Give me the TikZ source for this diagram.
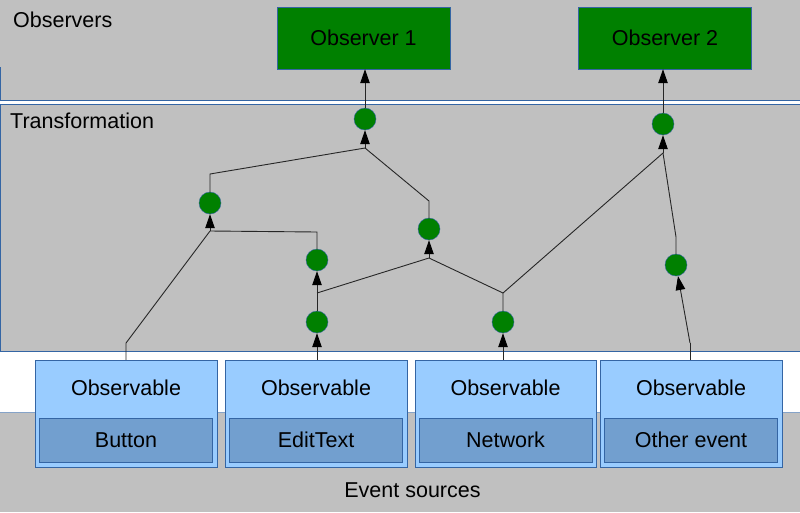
\documentclass[tikz,border=0pt]{standalone}
\usepackage{fontspec}
\setmainfont{Liberation Sans}
\usetikzlibrary{arrows.meta}
\definecolor{panelgray}{HTML}{C0C0C0}
\definecolor{opgreen}{HTML}{008000}
\definecolor{edgeblue}{HTML}{3465A4}
\definecolor{srclight}{HTML}{99CCFF}
\definecolor{srcdark}{HTML}{729FCF}
\tikzset{
  every node/.style={font=\fontsize{21.5}{25}\selectfont},
  title/.style={inner sep=0pt},
  observer/.style={draw=edgeblue, fill=opgreen, minimum width=173pt, minimum height=62pt, inner sep=0pt},
  operator/.style={circle, draw=edgeblue, fill=opgreen, minimum size=22pt, inner sep=0pt},
  source/.style={draw=edgeblue, fill=srclight, minimum width=182pt, minimum height=107pt, inner sep=0pt},
  sourcename/.style={draw=edgeblue, fill=srcdark, minimum width=173pt, minimum height=44pt, inner sep=0pt},
  link/.style={line width=0.9pt, black!85},
  flow/.style={link, -{Triangle[length=14pt, width=9.5pt, color=black]}},
  panelline/.style={edgeblue, line width=1pt}
}

\begin{document}
\begin{tikzpicture}[x=1pt, y=-1pt]
  \useasboundingbox (0,0) rectangle (800,512);
  % panels
  \fill[panelgray] (0,0) rectangle (800,512);
  \fill[white] (0,100) rectangle (800,104);
  \fill[white] (0,351) rectangle (800,412);
  \draw[panelline] (0,67) -- (0,100) -- (800,100);
  \draw[panelline] (800,104) -- (0,104) -- (0,351) -- (800,351);
  \draw[edgeblue!60, line width=0.8pt] (0,412) -- (800,412);
  \node[title, anchor=base west] (observerstitle) at (13,27) {Observers};
  \node[title, anchor=base west] (transtitle) at (10,128) {Transformation};
  \node[title, anchor=base] (sourcestitle) at (412.5,497) {Event sources};

  % observers
  \node[observer] (obs1) at (363.5,38) {Observer 1};
  \node[observer] (obs2) at (665,38) {Observer 2};

  % event sources
  \node[source] (button) at (126,413.5) {};
  \node (buttonobs) at (126,388) {Observable};
  \node[sourcename] (buttonname) at (126,440) {Button};
  \node[source] (edit) at (316,413.5) {};
  \node (editobs) at (316,388) {Observable};
  \node[sourcename] (editname) at (316,440) {EditText};
  \node[source, minimum width=181pt] (net) at (505.5,413.5) {};
  \node (netobs) at (505.5,388) {Observable};
  \node[sourcename, minimum width=173pt] (netname) at (505.5,440) {Network};
  \node[source] (other) at (691,413.5) {};
  \node (otherobs) at (691,388) {Observable};
  \node[sourcename] (othername) at (691,440) {Other event};

  % operators
  \node[operator] (op1) at (365,119) {};
  \node[operator] (op2) at (663,124) {};
  \node[operator] (op3) at (210,203) {};
  \node[operator] (op4) at (317,260) {};
  \node[operator] (op5) at (317,322) {};
  \node[operator] (op6) at (429,229) {};
  \node[operator] (op7) at (503,322) {};
  \node[operator] (op8) at (676,265) {};

  % junctions
  \coordinate (j1) at (365,148);
  \coordinate (j2) at (663,153);
  \coordinate (j3) at (210,231);
  \coordinate (j3t) at (210,174);
  \coordinate (j4) at (317,232);
  \coordinate (j5) at (317,293);
  \coordinate (j6) at (429,258);
  \coordinate (j6t) at (429,201);
  \coordinate (j7) at (503,293);
  \coordinate (j8) at (676,237);
  \coordinate (jb) at (126,343);
  \coordinate (jo) at (690,343);

  % connectors
  \draw[link] (button.north) -- (jb) -- (j3);
  \draw[flow] (j3) -- (op3);
  \draw[link] (op4) -- (j4) -- (j3);
  \draw[flow] (edit.north -| op5) -- (op5);
  \draw[link] (op5) -- (j5);
  \draw[flow] (j5) -- (op4);
  \draw[link] (j5) -- (j6);
  \draw[flow] (j6) -- (op6);
  \draw[flow] (net.north -| op7) -- (op7);
  \draw[link] (op7) -- (j7) -- (j6);
  \draw[link] (j7) -- (j2);
  \draw[flow] (j2) -- (op2);
  \draw[link] (other.north -| jo) -- (jo);
  \draw[flow] (jo) -- (op8);
  \draw[link] (op8) -- (j8) -- (j2);
  \draw[link] (op3) -- (j3t) -- (j1);
  \draw[link] (op6) -- (j6t) -- (j1);
  \draw[flow] (j1) -- (op1);
  \draw[flow] (op1.north) -- (op1.north |- obs1.south);
  \draw[flow] (op2.north) -- (op2.north |- obs2.south);
\end{tikzpicture}
\end{document}
